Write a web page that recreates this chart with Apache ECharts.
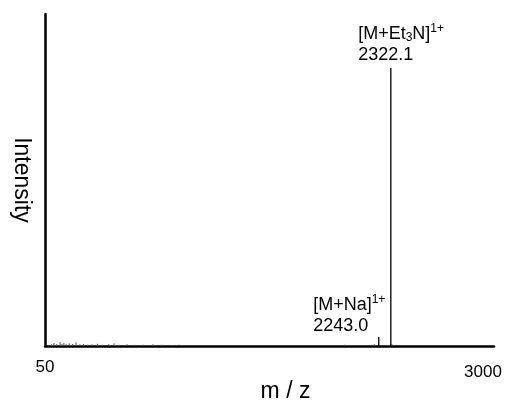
<!DOCTYPE html>
<html>
<head>
<meta charset="utf-8">
<script src="https://cdn.jsdelivr.net/npm/echarts@6/dist/echarts.min.js"></script>
<style>
  html, body { margin: 0; padding: 0; background: #fff; }
  #chart { width: 508px; height: 400px; }
</style>
</head>
<body>
<div id="chart"></div>
<script>
// Mass spectrum: m/z positions and relative intensities (0-100 scale)
const mzRange = [50, 3000];
const xTickLabels = [50, 3000];

// Assigned ions
const ionMz = [2243.0, 2322.1];
const ionIntensity = [2.7, 83.7];

// Low-level baseline peaks
const noiseMz = [95, 110, 128, 150, 162, 175, 190, 210, 232, 255, 280, 305, 330, 360, 395,
                 430, 470, 505, 540, 590, 640, 700, 760, 820, 880, 930, 2020, 2215, 2330];
const noiseIntensity = [0.5, 0.9, 0.6, 1.2, 0.7, 0.9, 0.5, 0.8, 0.6, 1.1, 0.5, 0.6, 0.4, 0.5, 0.7,
                        0.4, 0.5, 0.8, 0.4, 0.5, 0.4, 0.4, 0.5, 0.4, 0.3, 0.4, 0.4, 0.5, 0.6];

const FONT = '"Liberation Sans", Arial, Helvetica, sans-serif';

const ionRich = {
  n:   { fontSize: 18, fontFamily: FONT, color: '#000' },
  sub: { fontSize: 12, fontFamily: FONT, color: '#000', padding: [9, 0, 0, 0] },
  sup: { fontSize: 12, fontFamily: FONT, color: '#000', padding: [0, 0, 10, 0] }
};

const ionLabels = [
  { text: '{n|[M+Na]}{sup|1+}\n{n|2243.0}', offset: [-65, -43] },
  { text: '{n|[M+Et}{sub|3}{n|N]}{sup|1+}\n{n|2322.1}', offset: [-32, -45] }
];

const noiseData = noiseMz.map((m, i) => [m, noiseIntensity[i]]);
const ionData = ionMz.map((m, i) => ({
  value: [m, ionIntensity[i]],
  label: {
    show: true,
    position: ionLabels[i].offset,
    align: 'left',
    verticalAlign: 'top',
    lineHeight: 21,
    formatter: ionLabels[i].text,
    rich: ionRich
  }
}));

const chart = echarts.init(document.getElementById('chart'), null, { renderer: 'canvas' });
chart.setOption({
  animation: false,
  backgroundColor: '#fff',
  grid: { left: 45, right: 14, top: 14, bottom: 54, containLabel: false, outerBoundsMode: 'none' },
  xAxis: {
    type: 'value',
    min: mzRange[0],
    max: mzRange[1],
    interval: 50,
    name: 'm / z',
    nameLocation: 'middle',
    nameGap: 34,
    nameMoveOverlap: false,
    nameTextStyle: { fontSize: 23, fontFamily: FONT, color: '#000', padding: [0, 0, 0, 32] },
    axisLine: { show: true, onZero: false, lineStyle: { color: '#000', width: 2.5 } },
    axisTick: { show: false },
    splitLine: { show: false },
    axisLabel: {
      showMinLabel: true,
      showMaxLabel: true,
      margin: 13,
      fontSize: 17,
      fontFamily: FONT,
      color: '#000',
      formatter: v => v === xTickLabels[0] ? '{a|' + v + '}' : (v === xTickLabels[1] ? '{b|' + v + '}' : ''),
      rich: {
        a: { fontSize: 17, fontFamily: FONT, color: '#000' },
        b: { fontSize: 17, fontFamily: FONT, color: '#000', padding: [5, 22, 0, 0] }
      }
    }
  },
  yAxis: {
    type: 'value',
    min: 0,
    max: 100,
    name: 'Intensity',
    nameLocation: 'middle',
    nameRotate: -90,
    nameGap: 12,
    nameMoveOverlap: false,
    nameTextStyle: { fontSize: 23, fontFamily: FONT, color: '#000' },
    axisLine: { show: true, lineStyle: { color: '#000', width: 2.5 } },
    axisTick: { show: false },
    axisLabel: { show: false },
    splitLine: { show: false }
  },
  series: [
    {
      type: 'bar',
      data: noiseData,
      barWidth: 1,
      itemStyle: { color: '#555' },
      silent: true
    },
    {
      type: 'bar',
      data: ionData,
      barWidth: 1.3,
      barGap: '-100%',
      itemStyle: { color: '#000' },
      silent: true
    }
  ]
});
</script>
</body>
</html>
